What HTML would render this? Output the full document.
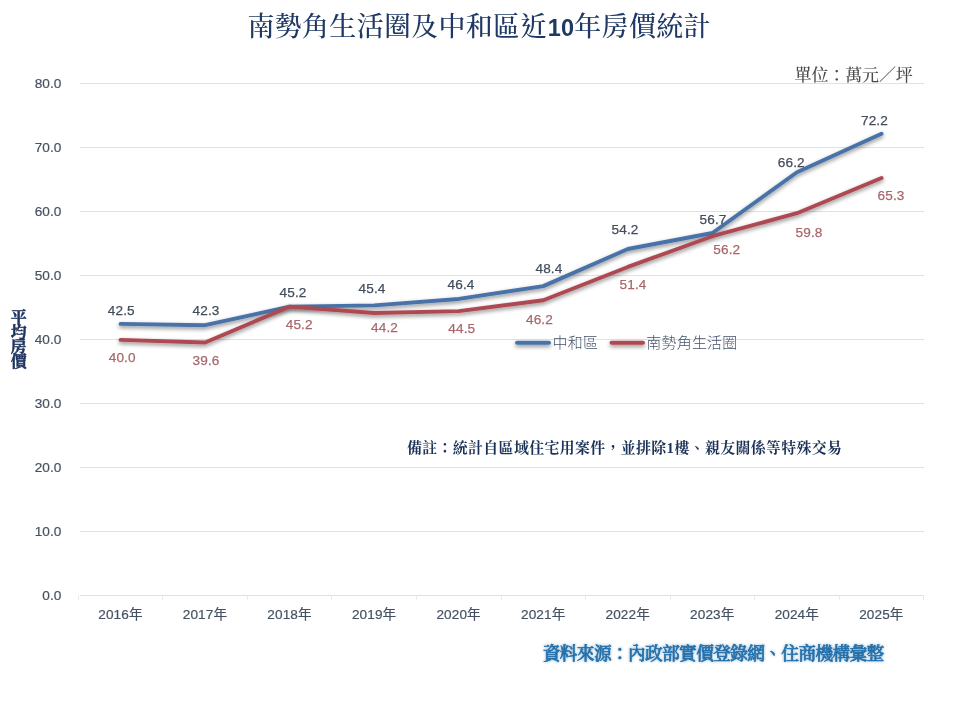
<!DOCTYPE html>
<html lang="zh-Hant">
<head>
<meta charset="utf-8">
<title>南勢角生活圈及中和區近10年房價統計</title>
<style>
html,body{margin:0;padding:0;background:#fff;}
body{width:960px;height:712px;overflow:hidden;position:relative;}
svg{position:absolute;left:0;top:0;display:block;}
.sans{font-family:"Liberation Sans", "Noto Sans CJK TC", sans-serif;}
.serif{font-family:"Liberation Serif", "Noto Serif CJK SC", serif;}
.ax{font-size:13.6px;fill:#465262;stroke:#465262;stroke-width:0.2px;letter-spacing:0.1px;}
.bl{font-size:13.6px;fill:#424d5c;stroke:#424d5c;stroke-width:0.25px;letter-spacing:0.1px;}
.rl{font-size:13.6px;fill:#a9676b;stroke:#a9676b;stroke-width:0.25px;letter-spacing:0.1px;}
</style>
</head>
<body>
<svg width="960" height="712" viewBox="0 0 960 712">
<defs>
<filter id="sh" filterUnits="userSpaceOnUse" x="0" y="0" width="960" height="712">
<feGaussianBlur in="SourceAlpha" stdDeviation="1.9" result="b"/>
<feOffset in="b" dx="0.3" dy="2.4" result="o"/>
<feComponentTransfer in="o" result="s"><feFuncA type="linear" slope="0.46"/></feComponentTransfer>
<feMerge><feMergeNode in="s"/><feMergeNode in="SourceGraphic"/></feMerge>
</filter>
<filter id="glow" filterUnits="userSpaceOnUse" x="0" y="0" width="960" height="712">
<feGaussianBlur in="SourceGraphic" stdDeviation="1.4" result="b"/>
<feComponentTransfer in="b" result="g"><feFuncA type="linear" slope="0.55"/></feComponentTransfer>
<feMerge><feMergeNode in="g"/><feMergeNode in="SourceGraphic"/></feMerge>
</filter>
</defs>
<rect width="960" height="712" fill="#ffffff"/>

<g stroke="#dbe3e6" stroke-width="1" fill="none" shape-rendering="crispEdges">
<line x1="79.5" y1="531.50" x2="924.0" y2="531.50"/>
<line x1="79.5" y1="467.50" x2="924.0" y2="467.50"/>
<line x1="79.5" y1="403.50" x2="924.0" y2="403.50"/>
<line x1="79.5" y1="339.50" x2="924.0" y2="339.50"/>
<line x1="79.5" y1="275.50" x2="924.0" y2="275.50"/>
<line x1="79.5" y1="211.50" x2="924.0" y2="211.50"/>
<line x1="79.5" y1="147.50" x2="924.0" y2="147.50"/>
<line x1="79.5" y1="83.50" x2="924.0" y2="83.50"/>
</g>
<g stroke="#d8e2e8" stroke-width="1" fill="none" shape-rendering="crispEdges">
<line x1="79.5" y1="595.5" x2="924.0" y2="595.5"/>
</g>
<g stroke="#e6ebee" stroke-width="1" fill="none" shape-rendering="crispEdges">
<line x1="78.5" y1="595.0" x2="78.5" y2="600.0"/>
<line x1="162.5" y1="595.0" x2="162.5" y2="600.0"/>
<line x1="247.5" y1="595.0" x2="247.5" y2="600.0"/>
<line x1="331.5" y1="595.0" x2="331.5" y2="600.0"/>
<line x1="416.5" y1="595.0" x2="416.5" y2="600.0"/>
<line x1="501.5" y1="595.0" x2="501.5" y2="600.0"/>
<line x1="585.5" y1="595.0" x2="585.5" y2="600.0"/>
<line x1="670.5" y1="595.0" x2="670.5" y2="600.0"/>
<line x1="754.5" y1="595.0" x2="754.5" y2="600.0"/>
<line x1="839.5" y1="595.0" x2="839.5" y2="600.0"/>
<line x1="923.5" y1="595.0" x2="923.5" y2="600.0"/>
</g>
<g class="sans ax" text-anchor="end">
<text x="61.5" y="600.00">0.0</text>
<text x="61.5" y="536.00">10.0</text>
<text x="61.5" y="472.00">20.0</text>
<text x="61.5" y="408.00">30.0</text>
<text x="61.5" y="344.00">40.0</text>
<text x="61.5" y="280.00">50.0</text>
<text x="61.5" y="216.00">60.0</text>
<text x="61.5" y="152.00">70.0</text>
<text x="61.5" y="88.00">80.0</text>
</g>
<g class="sans ax" text-anchor="middle">
<text x="120.42" y="618.6">2016年</text>
<text x="204.97" y="618.6">2017年</text>
<text x="289.53" y="618.6">2018年</text>
<text x="374.08" y="618.6">2019年</text>
<text x="458.62" y="618.6">2020年</text>
<text x="543.17" y="618.6">2021年</text>
<text x="627.72" y="618.6">2022年</text>
<text x="712.27" y="618.6">2023年</text>
<text x="796.82" y="618.6">2024年</text>
<text x="881.38" y="618.6">2025年</text>
</g>
<polyline points="120.57,323.90 205.12,325.18 289.68,306.62 374.23,305.34 458.77,298.94 543.32,286.14 627.87,249.02 712.42,233.02 796.97,172.22 881.52,133.82" fill="none" stroke="#4a73a8" stroke-width="3.9" stroke-linecap="round" stroke-linejoin="round" filter="url(#sh)"/>
<polyline points="120.57,339.90 205.12,342.46 289.68,306.62 374.23,313.02 458.77,311.10 543.32,300.22 627.87,266.94 712.42,236.22 796.97,213.18 881.52,177.98" fill="none" stroke="#ae4a52" stroke-width="3.9" stroke-linecap="round" stroke-linejoin="round" filter="url(#sh)"/>
<g class="sans bl" text-anchor="middle">
<text x="121.3" y="315.00">42.5</text>
<text x="206" y="315.40">42.3</text>
<text x="293" y="297.20">45.2</text>
<text x="372" y="292.90">45.4</text>
<text x="461" y="288.90">46.4</text>
<text x="548.9" y="273.20">48.4</text>
<text x="625" y="234.40">54.2</text>
<text x="713" y="224.10">56.7</text>
<text x="791.3" y="167.30">66.2</text>
<text x="874.4" y="124.80">72.2</text>
</g>
<g class="sans rl" text-anchor="middle">
<text x="122.2" y="362.20">40.0</text>
<text x="206" y="365.20">39.6</text>
<text x="299.2" y="329.20">45.2</text>
<text x="384.5" y="332.10">44.2</text>
<text x="461.8" y="333.10">44.5</text>
<text x="539.4" y="324.30">46.2</text>
<text x="633" y="289.40">51.4</text>
<text x="726.8" y="253.50">56.2</text>
<text x="809" y="236.80">59.8</text>
<text x="891" y="199.90">65.3</text>
</g>
<g filter="url(#sh)" fill="none" stroke-width="3.9" stroke-linecap="round">
<line x1="517" y1="342.8" x2="549" y2="342.8" stroke="#4a73a8"/>
<line x1="611.5" y1="342.8" x2="643" y2="342.8" stroke="#ae4a52"/>
</g>
<g class="sans" font-size="15px" font-weight="300" fill="#44546a" letter-spacing="0.2px">
<text x="552.5" y="348.2">中和區</text>
<text x="646.3" y="348.2">南勢角生活圈</text>
</g>
<text class="serif" x="247.5" y="36" font-size="27px" font-weight="500" fill="#1f3864" textLength="463" lengthAdjust="spacing">南勢角生活圈及中和區近<tspan class="sans" font-weight="bold" font-size="23.5px">10</tspan>年房價統計</text>
<text class="serif" x="794.6" y="80.6" font-size="17px" font-weight="500" fill="#4b4b4b" textLength="118.2" lengthAdjust="spacing">單位：萬元／坪</text>
<text class="serif" x="407" y="453.3" font-size="14.9px" font-weight="bold" fill="#1c3157" textLength="435" lengthAdjust="spacing">備註：統計自區域住宅用案件，並排除1樓、親友關係等特殊交易</text>
<text class="serif" x="542.8" y="659.5" font-size="17.8px" font-weight="500" fill="#2474b2" stroke="#1f6ba6" stroke-width="0.55" textLength="341.5" lengthAdjust="spacing" filter="url(#glow)">資料來源：內政部實價登錄網、住商機構彙整</text>
<g class="serif" font-size="16px" font-weight="bold" fill="#1f3560" stroke="#1f3560" stroke-width="0.45" text-anchor="middle">
<text x="18.7" y="322.80">平</text>
<text x="18.7" y="337.50">均</text>
<text x="18.7" y="352.20">房</text>
<text x="18.7" y="366.90">價</text>
</g>
</svg>
</body>
</html>
